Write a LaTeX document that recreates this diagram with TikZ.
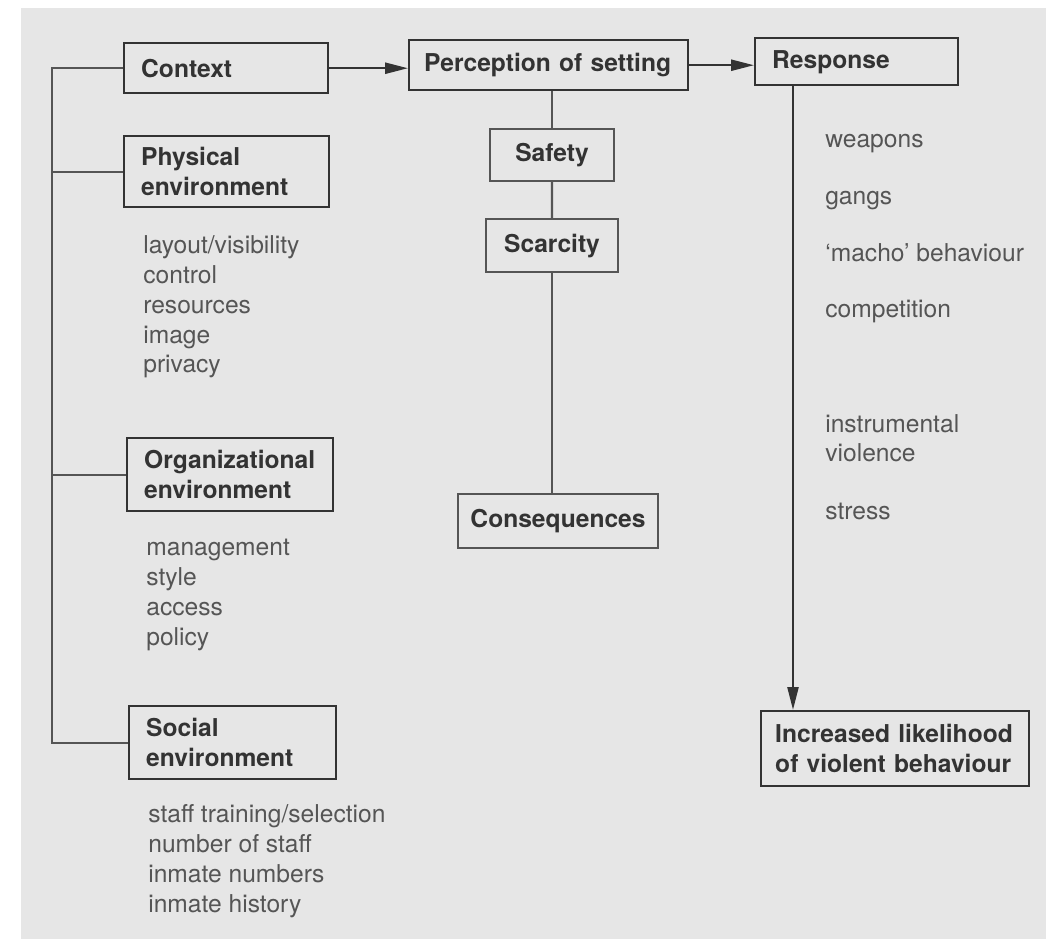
\documentclass[tikz,border=0pt]{standalone}
\usepackage{fontspec}
\setmainfont{TeX Gyre Heros}
\usetikzlibrary{arrows.meta}

\definecolor{paper}{HTML}{E6E6E6}
\definecolor{ink}{HTML}{333333}
\definecolor{inklight}{HTML}{555555}

\tikzset{
  ctxbox/.style={draw=ink, line width=1.4pt, rectangle, anchor=north west, inner xsep=0.34cm,
    text width=#1, align=left, font=\fontsize{14}{17}\selectfont\bfseries, text=ink},
  factorbox/.style={draw=inklight, line width=1.2pt, rectangle, anchor=north west,
    font=\fontsize{14}{17}\selectfont\bfseries, text=ink},
  % lists: placed at the baseline of their last line
  itemlist/.style={anchor=base west, align=left, inner sep=0pt,
    font=\fontsize{14}{17}\selectfont, text=inklight},
  link/.style={draw=inklight, line width=1.2pt},
  flow/.style={draw=ink, line width=1.4pt, -{Triangle[length=0.46cm, width=0.22cm]}}
}

\begin{document}
\begin{tikzpicture}[x=0.02cm, y=-0.02cm]
  % page
  \useasboundingbox (0,0) rectangle (1046,939);
  \fill[white] (-10,-10) rectangle (1056,949);
  \fill[paper] (21,8) rectangle (1056,949);

  % context column
  \node[ctxbox=3.4cm, minimum height=1cm] (ctx) at (123,42) {Context};
  \node[ctxbox=3.42cm, minimum height=1.42cm] (phys) at (123,135) {Physical\\environment};
  \node[ctxbox=3.44cm, minimum height=1.46cm] (org) at (126,437) {Organizational\\environment};
  \node[ctxbox=3.46cm, minimum height=1.46cm] (soc) at (128,705) {Social\\environment};

  \node[itemlist] (physlist) at (143,373) {layout/visibility\\control\\resources\\image\\privacy};
  \node[itemlist] (orglist) at (146,645) {management\\style\\access\\policy};
  \node[itemlist] (soclist) at (148,912) {staff training/selection\\number of staff\\inmate numbers\\inmate history};

  % perception column
  \node[ctxbox=4.98cm, inner xsep=0.3cm, minimum height=1cm] (perc) at (408,39) {Perception of setting};
  \node[factorbox, minimum width=2.48cm, minimum height=1.04cm] (safe) at (489,128) {Safety};
  \node[factorbox, minimum width=2.64cm, minimum height=1.06cm] (scar) at (485,218) {Scarcity};
  \node[factorbox, minimum width=4cm, minimum height=1.08cm] (cons) at (457,493) {Consequences};

  % response column
  \node[ctxbox=3.38cm, minimum height=0.94cm] (resp) at (754,37) {Response};
  \node[ctxbox=4.8cm, inner xsep=0.28cm, minimum height=1.5cm] (incr) at (760,710) {Increased likelihood\\of violent behaviour};

  \node[itemlist] (weapons) at (825,148) {weapons};
  \node[itemlist] (gangs) at (825,205) {gangs};
  \node[itemlist] (macho) at (825,262) {`macho' behaviour};
  \node[itemlist] (compet) at (825,318) {competition};
  \node[itemlist] (instr) at (825,462) {instrumental\\violence};
  \node[itemlist] (stress) at (825,520) {stress};

  % connectors
  \coordinate (spine) at (52,0);
  \coordinate (rline) at (793,0);
  \draw[link] (ctx.west) -- (ctx.west -| spine) -- (soc.west -| spine) -- (soc.west);
  \draw[link] (phys.west -| spine) -- (phys.west);
  \draw[link] (org.west -| spine) -- (org.west);

  \draw[flow] (ctx.east) -- (ctx.east -| perc.west);
  \draw[flow] (perc.east) -- (perc.east -| resp.west);

  \draw[link] (perc.south -| safe.north) -- (safe.north);
  \draw[link] (safe.south) -- (scar.north);
  \draw[link] (scar.south) -- (scar.south |- cons.north);

  \draw[flow] (resp.south -| rline) -- (incr.north -| rline);
\end{tikzpicture}
\end{document}
